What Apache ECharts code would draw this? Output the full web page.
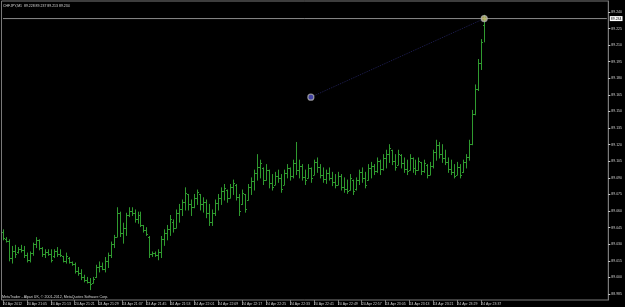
<!DOCTYPE html>
<html><head><meta charset="utf-8">
<script src="https://cdn.jsdelivr.net/npm/echarts@6/dist/echarts.min.js"></script>
<style>html,body{margin:0;padding:0;background:#000;}#c{width:625px;height:307px;}</style>
</head><body><div id="c"></div>
<script>
// [open, close, low, high] per 1-minute bar
const bars = [
[89.041,89.036,89.034,89.043],[89.035,89.033,89.032,89.036],[89.033,89.018,89.015,89.034],[89.018,89.024,89.013,89.028],
[89.024,89.021,89.018,89.029],[89.023,89.026,89.022,89.027],[89.026,89.025,89.023,89.029],[89.025,89.020,89.018,89.028],
[89.020,89.016,89.014,89.022],[89.016,89.022,89.014,89.023],[89.022,89.030,89.020,89.031],[89.030,89.034,89.027,89.036],
[89.034,89.027,89.025,89.034],[89.027,89.021,89.019,89.027],[89.021,89.023,89.018,89.025],[89.023,89.021,89.020,89.025],
[89.021,89.016,89.014,89.025],[89.019,89.024,89.018,89.025],[89.024,89.021,89.019,89.027],[89.021,89.020,89.019,89.025],
[89.019,89.015,89.014,89.019],[89.015,89.019,89.013,89.022],[89.018,89.014,89.013,89.018],[89.014,89.012,89.011,89.014],
[89.012,89.006,89.004,89.013],[89.006,89.004,89.002,89.009],[89.004,89.000,88.998,89.007],[89.000,88.998,88.996,89.002],
[88.998,88.996,88.995,89.000],[88.996,88.994,88.989,88.999],[88.995,88.999,88.995,89.000],[89.000,89.009,89.000,89.011],
[89.009,89.010,89.005,89.014],[89.010,89.008,89.007,89.013],[89.008,89.015,89.005,89.018],[89.015,89.020,89.009,89.022],
[89.020,89.030,89.018,89.032],[89.030,89.037,89.027,89.038],[89.037,89.058,89.037,89.063],[89.058,89.040,89.037,89.059],
[89.040,89.045,89.031,89.049],[89.045,89.056,89.038,89.058],[89.056,89.060,89.055,89.063],[89.060,89.058,89.056,89.063],
[89.058,89.053,89.050,89.061],[89.053,89.056,89.049,89.059],[89.056,89.047,89.046,89.059],[89.047,89.043,89.041,89.047],
[89.043,89.039,89.038,89.045],[89.037,89.021,89.018,89.037],[89.021,89.022,89.019,89.023],[89.022,89.020,89.019,89.023],
[89.020,89.023,89.016,89.025],[89.023,89.035,89.018,89.037],[89.035,89.040,89.029,89.043],[89.040,89.044,89.034,89.047],
[89.044,89.053,89.038,89.056],[89.050,89.045,89.041,89.052],[89.045,89.058,89.045,89.061],[89.058,89.062,89.050,89.066],
[89.062,89.068,89.056,89.070],[89.068,89.076,89.061,89.081],[89.075,89.066,89.061,89.075],[89.066,89.064,89.056,89.070],
[89.064,89.072,89.063,89.075],[89.072,89.077,89.066,89.079],[89.075,89.066,89.061,89.075],[89.066,89.068,89.059,89.072],
[89.068,89.058,89.054,89.070],[89.058,89.050,89.047,89.066],[89.050,89.058,89.047,89.061],[89.058,89.067,89.056,89.070],
[89.067,89.072,89.061,89.075],[89.072,89.078,89.066,89.081],[89.078,89.081,89.070,89.084],[89.079,89.072,89.068,89.079],
[89.072,89.082,89.072,89.084],[89.082,89.085,89.075,89.088],[89.084,89.073,89.070,89.084],[89.073,89.060,89.056,89.075],
[89.066,89.076,89.066,89.079],[89.075,89.062,89.059,89.075],[89.070,89.082,89.070,89.084],[89.082,89.087,89.075,89.090],
[89.087,89.094,89.079,89.097],[89.094,89.100,89.088,89.111],[89.100,89.103,89.090,89.106],[89.099,89.088,89.084,89.099],
[89.088,89.097,89.088,89.102],[89.097,89.085,89.081,89.097],[89.085,89.082,89.079,89.093],[89.084,89.092,89.084,89.095],
[89.092,89.090,89.086,89.097],[89.090,89.080,89.077,89.093],[89.084,89.094,89.084,89.097],[89.094,89.099,89.090,89.102],
[89.099,89.092,89.088,89.099],[89.092,89.103,89.090,89.106],[89.103,89.097,89.093,89.122],[89.097,89.101,89.090,89.106],
[89.101,89.091,89.088,89.102],[89.091,89.088,89.084,89.097],[89.090,89.099,89.090,89.102],[89.099,89.090,89.086,89.099],
[89.093,89.104,89.093,89.106],[89.104,89.100,89.095,89.108],[89.100,89.093,89.090,89.102],[89.093,89.089,89.086,89.099],
[89.089,89.094,89.085,89.097],[89.094,89.090,89.088,89.099],[89.090,89.086,89.083,89.095],[89.086,89.084,89.081,89.093],
[89.084,89.092,89.084,89.095],[89.092,89.082,89.079,89.093],[89.082,89.080,89.077,89.090],[89.080,89.078,89.076,89.088],
[89.079,89.090,89.079,89.093],[89.088,89.078,89.075,89.088],[89.080,89.088,89.079,89.090],[89.088,89.095,89.084,89.097],
[89.095,89.090,89.086,89.099],[89.090,89.084,89.081,89.095],[89.088,89.099,89.088,89.102],[89.099,89.101,89.090,89.104],
[89.101,89.096,89.093,89.102],[89.096,89.105,89.095,89.108],[89.105,89.098,89.093,89.106],[89.098,89.108,89.097,89.111],
[89.108,89.112,89.099,89.115],[89.112,89.117,89.104,89.120],[89.115,89.105,89.102,89.115],[89.105,89.100,89.097,89.111],
[89.102,89.112,89.102,89.115],[89.111,89.103,89.099,89.111],[89.103,89.098,89.095,89.108],[89.098,89.096,89.093,89.106],
[89.097,89.108,89.097,89.111],[89.108,89.099,89.095,89.108],[89.099,89.097,89.093,89.106],[89.097,89.105,89.097,89.108],
[89.104,89.096,89.093,89.104],[89.096,89.103,89.095,89.106],[89.102,89.093,89.090,89.102],[89.093,89.101,89.093,89.104],
[89.101,89.113,89.099,89.115],[89.113,89.120,89.106,89.124],[89.120,89.112,89.108,89.122],[89.112,89.108,89.104,89.120],
[89.108,89.104,89.102,89.115],[89.104,89.098,89.095,89.108],[89.098,89.095,89.093,89.106],[89.095,89.092,89.090,89.102],
[89.093,89.100,89.093,89.104],[89.100,89.093,89.090,89.102],[89.095,89.104,89.095,89.106],[89.104,89.109,89.099,89.111],
[89.109,89.121,89.106,89.124],[89.121,89.148,89.120,89.151],[89.148,89.170,89.147,89.174],[89.170,89.194,89.169,89.197],
[89.194,89.213,89.188,89.215],[89.228,89.234,89.213,89.237]
];
const xTickLabels = ["24 Apr 2012","24 Apr 21:05","24 Apr 21:13","24 Apr 21:21","24 Apr 21:29","24 Apr 21:37","24 Apr 21:45",
"24 Apr 21:53","24 Apr 22:01","24 Apr 22:09","24 Apr 22:17","24 Apr 22:25","24 Apr 22:33","24 Apr 22:41","24 Apr 22:49",
"24 Apr 22:57","24 Apr 23:05","24 Apr 23:13","24 Apr 23:21","24 Apr 23:29","24 Apr 23:37"];
const yTicks = [89.240,89.225,89.210,89.195,89.180,89.165,89.150,89.135,89.120,89.105,89.090,89.075,89.060,89.045,89.030,89.015,89.000,88.985];
const currentPrice = 89.234;
const trendStart = [103, 89.163];
const trendEnd = [161, 89.234];
const headerText = "CHFJPY,M1  89.228 89.237 89.213 89.234";
const footerText = "MetaTrader - Alpari UK, \u00a9 2001-2012, MetaQuotes Software Corp.";

const totalSlots = 203;
const categories = [];
for (let i = 0; i < totalSlots; i++) categories.push(String(i));

const BAR = '#2f9a2f';
const FONT = 'Liberation Sans';
const chart = echarts.init(document.getElementById('c'), null, {renderer:'canvas'});
chart.setOption({
  backgroundColor:'#000',
  animation:false,
  grid:{left:0, right:15, top:1, bottom:7, show:true, borderColor:'#7a7a7a', borderWidth:1, backgroundColor:'#000'},
  xAxis:{
    type:'category', data:categories, boundaryGap:true,
    axisLine:{show:false},
    axisTick:{show:true, alignWithLabel:true, length:5, lineStyle:{color:'#7a7a7a'},
      interval:function(i){return i%8===0 && i<=160;}},
    axisLabel:{show:true, interval:function(i){return i%8===0 && i<=160;},
      formatter:function(v,i){return xTickLabels[Math.round(i/8)]||'';},
      align:'left', margin:2, fontSize:3.5, fontFamily:FONT, color:'#cfcfcf'},
    splitLine:{show:false}
  },
  yAxis:{
    type:'value', position:'right', min:88.9796, max:89.2499,
    axisLine:{show:true, lineStyle:{color:'#7a7a7a'}},
    axisTick:{show:true, length:2, lineStyle:{color:'#cfcfcf'}, customValues:yTicks},
    axisLabel:{show:true, customValues:yTicks, formatter:function(v){return v.toFixed(3);},
      margin:3, fontSize:3.5, fontFamily:FONT, color:'#cfcfcf'},
    splitLine:{show:false}
  },
  series:[
    {
      type:'custom',
      data:bars.map(function(b,i){return [i,b[0],b[1],b[2],b[3]];}),
      encode:{x:0, y:[1,2,3,4]},
      renderItem:function(params, api){
        const x = api.value(0);
        const o = api.coord([x, api.value(1)]);
        const c = api.coord([x, api.value(2)]);
        const l = api.coord([x, api.value(3)]);
        const h = api.coord([x, api.value(4)]);
        const px = Math.round(o[0]) + 0.5;
        const st = {stroke:BAR, lineWidth:1};
        return {type:'group', children:[
          {type:'line', shape:{x1:px, y1:h[1]-0.5, x2:px, y2:l[1]+0.5}, style:st},
          {type:'line', shape:{x1:px-1.5, y1:Math.round(o[1])+0.5, x2:px, y2:Math.round(o[1])+0.5}, style:st},
          {type:'line', shape:{x1:px, y1:Math.round(c[1])+0.5, x2:px+1.5, y2:Math.round(c[1])+0.5}, style:st}
        ]};
      }
    },
    {
      type:'line', silent:true, symbol:'none', z:3,
      data:[[0, currentPrice],[totalSlots-1, currentPrice]],
      lineStyle:{color:'#8c8c8c', width:1},
      endLabel:{show:true, distance:3, formatter:function(){return currentPrice.toFixed(3);},
        fontSize:3.5, fontFamily:FONT, color:'#000', backgroundColor:'#fff', padding:[0.5,1]}
    },
    {
      type:'line', silent:true, symbol:'none', z:3,
      data:[trendStart, trendEnd],
      lineStyle:{color:'#1e1e52', type:'dotted', width:1}
    },
    {
      type:'scatter', symbol:'circle', symbolSize:6, silent:true, z:5,
      data:[
        {value:trendStart, itemStyle:{color:'#5050c8', borderColor:'#b0b0b0', borderWidth:1.2}},
        {value:trendEnd, itemStyle:{color:'#c8c070', borderColor:'#b0b0b0', borderWidth:1.2}}
      ]
    }
  ],
  graphic:[
    {type:'text', left:3, top:4, style:{text:headerText, fontSize:3.5, fontFamily:FONT, fill:'#d8d8d8'}},
    {type:'text', left:2, top:295, style:{text:footerText, fontSize:3.6, fontFamily:FONT, fill:'#d8d8d8'}}
  ]
});
</script></body></html>
